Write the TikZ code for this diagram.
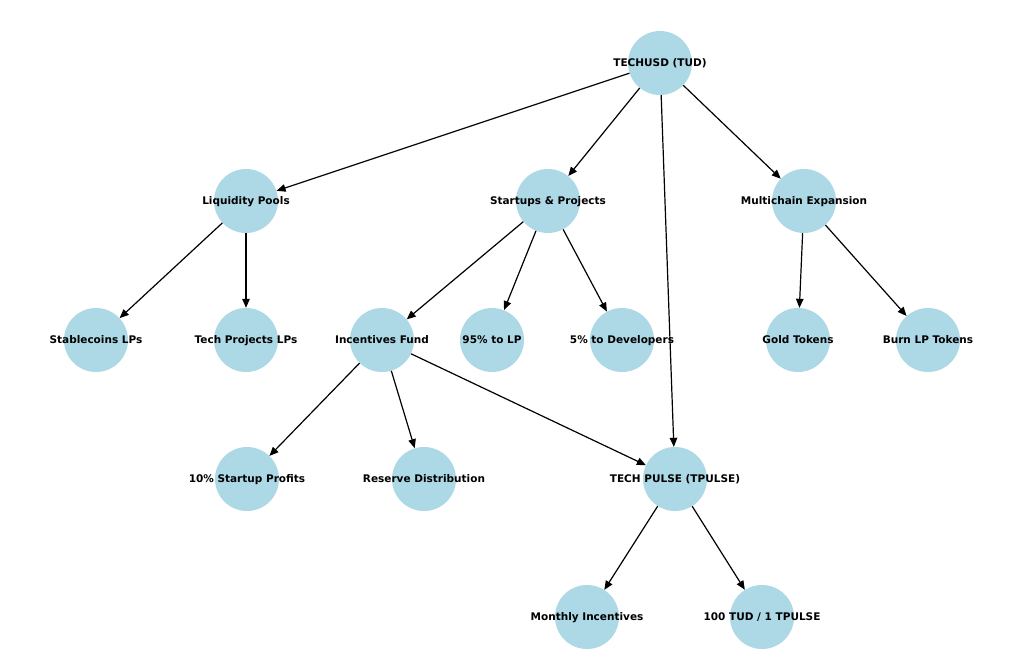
\documentclass[tikz,border=0pt]{standalone}
\usepackage{fontspec}
\setmainfont{DejaVu Sans}
\usetikzlibrary{arrows.meta}
\definecolor{nodeblue}{HTML}{ADD8E6}
\begin{document}
\begin{tikzpicture}[x=1pt,y=-1pt,
  circ/.style={circle,fill=nodeblue,draw=none,minimum size=64pt,inner sep=0pt},
  lbl/.style={font=\bfseries\fontsize{10.5}{12}\selectfont,text=black,inner sep=0pt,text height=7.7pt,text depth=0pt},
  conn/.style={draw=black,line width=1.2pt,-{Triangle[length=9pt,width=7.5pt]}}]
\useasboundingbox (0,0) rectangle (1024,661);
\fill[white] (0,0) rectangle (1024,661);
\foreach \n/\x/\y in {tud/660/63, lp/246/201, sp/548/201, mc/804/201,
  sc/96/340, tp/246/340, inf/382/340, lp95/492/340, dev/622/340, gold/798/340, burn/928/340,
  sprof/247/479, res/424/479, tpulse/675/479, mon/587/617, hund/762/617}
  {\node[circ] (\n) at (\x,\y) {};}
\node[lbl] at (tud) {TECHUSD (TUD)};
\node[lbl] at (lp) {Liquidity Pools};
\node[lbl] at (sp) {Startups \& Projects};
\node[lbl] at (mc) {Multichain Expansion};
\node[lbl] at (sc) {Stablecoins LPs};
\node[lbl] at (tp) {Tech Projects LPs};
\node[lbl] at (inf) {Incentives Fund};
\node[lbl] at (lp95) {95\% to LP};
\node[lbl] at (dev) {5\% to Developers};
\node[lbl] at (gold) {Gold Tokens};
\node[lbl] at (burn) {Burn LP Tokens};
\node[lbl] at (sprof) {10\% Startup Profits};
\node[lbl] at (res) {Reserve Distribution};
\node[lbl] at (tpulse) {TECH PULSE (TPULSE)};
\node[lbl] at (mon) {Monthly Incentives};
\node[lbl] at (hund) {100 TUD / 1 TPULSE};
\draw[conn] (tud) -- (lp);
\draw[conn] (tud) -- (sp);
\draw[conn] (tud) -- (mc);
\draw[conn] (tud) -- (tpulse);
\draw[conn] (lp) -- (sc);
\draw[conn] (lp) -- (tp);
\draw[conn] (sp) -- (inf);
\draw[conn] (sp) -- (lp95);
\draw[conn] (sp) -- (dev);
\draw[conn] (mc) -- (gold);
\draw[conn] (mc) -- (burn);
\draw[conn] (inf) -- (sprof);
\draw[conn] (inf) -- (res);
\draw[conn] (inf) -- (tpulse);
\draw[conn] (tpulse) -- (mon);
\draw[conn] (tpulse) -- (hund);
\end{tikzpicture}
\end{document}
